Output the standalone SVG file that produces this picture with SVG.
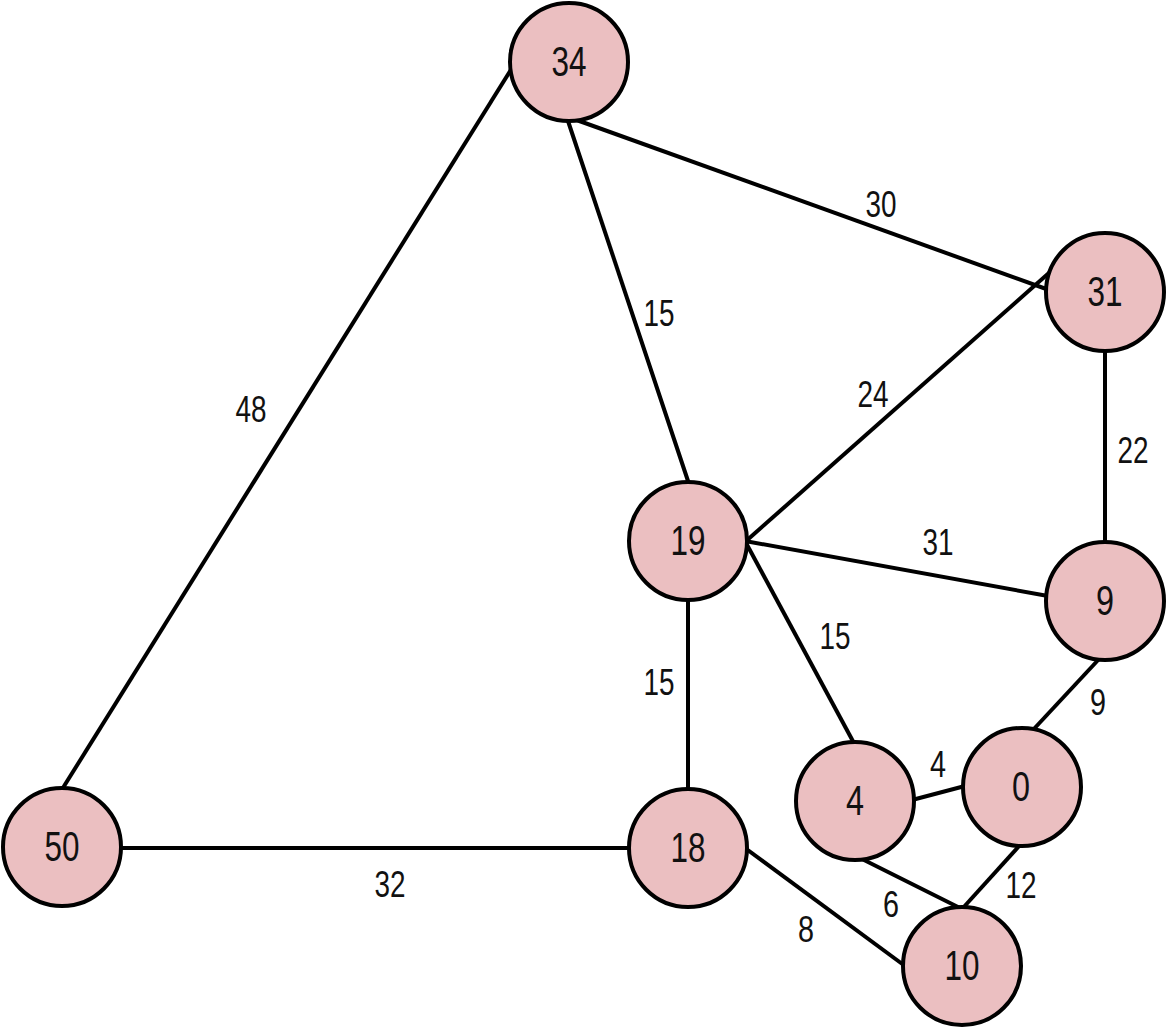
<svg xmlns="http://www.w3.org/2000/svg" width="1167" height="1029" viewBox="0 0 1167 1029">
<style>
.e{stroke:#000;stroke-width:4;fill:none}
.n{fill:#ebbfc1;stroke:#000;stroke-width:4}
.t{font-family:"Liberation Sans",Arial,sans-serif;font-size:43px;fill:#111;text-anchor:middle;dominant-baseline:central}
.l{font-family:"Liberation Sans",Arial,sans-serif;font-size:36px;fill:#111;text-anchor:middle;dominant-baseline:central}
</style>
<rect width="1167" height="1029" fill="#fff"/>
<g id="connectors">
<line class="e" x1="512" y1="68" x2="61" y2="791"/>
<line class="e" x1="571" y1="118" x2="1049" y2="290"/>
<line class="e" x1="567" y1="118" x2="689" y2="484"/>
<line class="e" x1="745" y1="542" x2="1050" y2="272"/>
<line class="e" x1="745" y1="541" x2="1048" y2="596"/>
<line class="e" x1="745" y1="541" x2="855" y2="745"/>
<line class="e" x1="688" y1="598" x2="688" y2="791"/>
<line class="e" x1="1105" y1="348" x2="1105" y2="545"/>
<line class="e" x1="1100" y1="658" x2="1032" y2="731"/>
<line class="e" x1="912" y1="800" x2="965" y2="786"/>
<line class="e" x1="1020" y1="845" x2="962" y2="909"/>
<line class="e" x1="860" y1="858" x2="962" y2="909"/>
<line class="e" x1="745" y1="848" x2="905" y2="966"/>
<line class="e" x1="119" y1="848" x2="631" y2="848"/>
<g id="edge-labels">
<text class="l" x="881" y="204" textLength="31" lengthAdjust="spacingAndGlyphs">30</text>
<text class="l" x="659" y="313" textLength="31" lengthAdjust="spacingAndGlyphs">15</text>
<text class="l" x="873" y="394" textLength="31" lengthAdjust="spacingAndGlyphs">24</text>
<text class="l" x="251" y="409" textLength="31" lengthAdjust="spacingAndGlyphs">48</text>
<text class="l" x="1133" y="450" textLength="31" lengthAdjust="spacingAndGlyphs">22</text>
<text class="l" x="938" y="542" textLength="31" lengthAdjust="spacingAndGlyphs">31</text>
<text class="l" x="835" y="636" textLength="31" lengthAdjust="spacingAndGlyphs">15</text>
<text class="l" x="659" y="682" textLength="31" lengthAdjust="spacingAndGlyphs">15</text>
<text class="l" x="1098" y="702" textLength="16" lengthAdjust="spacingAndGlyphs">9</text>
<text class="l" x="938" y="764" textLength="16" lengthAdjust="spacingAndGlyphs">4</text>
<text class="l" x="1021" y="885" textLength="31" lengthAdjust="spacingAndGlyphs">12</text>
<text class="l" x="891" y="904" textLength="16" lengthAdjust="spacingAndGlyphs">6</text>
<text class="l" x="806" y="929" textLength="16" lengthAdjust="spacingAndGlyphs">8</text>
<text class="l" x="390" y="884" textLength="31" lengthAdjust="spacingAndGlyphs">32</text>
</g>
</g>
<g id="n34"><circle class="n" cx="569" cy="62" r="59"/><text class="t" x="569" y="61" textLength="35" lengthAdjust="spacingAndGlyphs">34</text></g>
<g id="n31"><circle class="n" cx="1105" cy="292" r="59"/><text class="t" x="1105" y="291" textLength="35" lengthAdjust="spacingAndGlyphs">31</text></g>
<g id="n19"><circle class="n" cx="688" cy="541" r="59"/><text class="t" x="688" y="540" textLength="35" lengthAdjust="spacingAndGlyphs">19</text></g>
<g id="n9"><circle class="n" cx="1105" cy="601" r="59"/><text class="t" x="1105" y="600" textLength="18" lengthAdjust="spacingAndGlyphs">9</text></g>
<g id="n0"><circle class="n" cx="1022" cy="787" r="59"/><text class="t" x="1021" y="786" textLength="18" lengthAdjust="spacingAndGlyphs">0</text></g>
<g id="n4"><circle class="n" cx="855" cy="801" r="59"/><text class="t" x="855" y="800" textLength="18" lengthAdjust="spacingAndGlyphs">4</text></g>
<g id="n10"><circle class="n" cx="962" cy="966" r="59"/><text class="t" x="962" y="965" textLength="35" lengthAdjust="spacingAndGlyphs">10</text></g>
<g id="n18"><circle class="n" cx="688" cy="848" r="59"/><text class="t" x="688" y="847" textLength="35" lengthAdjust="spacingAndGlyphs">18</text></g>
<g id="n50"><circle class="n" cx="62" cy="847" r="59"/><text class="t" x="62" y="846" textLength="35" lengthAdjust="spacingAndGlyphs">50</text></g>
</svg>
